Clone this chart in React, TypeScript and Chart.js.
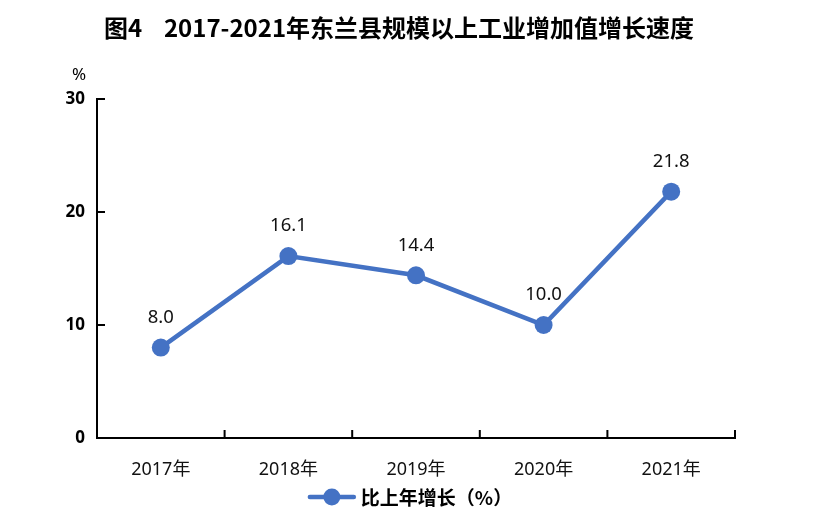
import { useEffect, useRef } from "react";
import { Chart, registerables } from "chart.js";

Chart.register(...registerables);

const categories = ["2017年", "2018年", "2019年", "2020年", "2021年"];
const growth = [8.0, 16.1, 14.4, 10.0, 21.8];
const yTicks = [0, 10, 20, 30];
const seriesName = "比上年增长（%）";
const chartTitle = "图4    2017-2021年东兰县规模以上工业增加值增长速度";
const unitLabel = "%";

const BLUE = "#4472C4";
const FONT = '"Noto Sans", "Noto Sans CJK SC", sans-serif';
const CJK_FONT = '"Noto Sans CJK SC", "Noto Sans", sans-serif';

// draws title, unit, inward ticks, data labels and legend
const extras = {
    id: "extras",
    afterDraw(chart: any) {
        const ctx = chart.ctx;
        const area = chart.chartArea;
        const x = chart.scales.x;
        const y = chart.scales.y;

        ctx.save();
        ctx.fillStyle = "#000";
        ctx.textAlign = "center";
        ctx.textBaseline = "middle";
        ctx.font = "bold 24px " + CJK_FONT;
        ctx.fillText(chartTitle, 399, 28);

        ctx.font = "17px " + FONT;
        ctx.fillText(unitLabel, 79, 75);

        // inward tick marks
        ctx.strokeStyle = "#000";
        ctx.lineWidth = 2;
        ctx.beginPath();
        yTicks.forEach((v) => {
            if (v === 0) return;
            const py = y.getPixelForValue(v);
            ctx.moveTo(area.left, py);
            ctx.lineTo(area.left + 8, py);
        });
        categories.forEach((_, i) => {
            const px = x.getPixelForValue(i + 0.5);
            ctx.moveTo(px, area.bottom);
            ctx.lineTo(px, area.bottom - 8);
        });
        ctx.stroke();

        // data labels
        const meta = chart.getDatasetMeta(0);
        ctx.font = "18.5px " + FONT;
        ctx.fillStyle = "#111";
        meta.data.forEach((pt: any, i: number) => {
            ctx.fillText(growth[i].toFixed(1), pt.x, pt.y - 30);
        });

        // legend
        ctx.font = "bold 19px " + CJK_FONT;
        const textW = ctx.measureText(seriesName).width;
        const markW = 44;
        const total = markW + 7 + textW;
        const lx = chart.width / 2 - total / 2;
        const ly = 497;
        ctx.strokeStyle = BLUE;
        ctx.lineWidth = 4.5;
        ctx.lineCap = "round";
        ctx.beginPath();
        ctx.moveTo(lx, ly);
        ctx.lineTo(lx + markW, ly);
        ctx.stroke();
        ctx.fillStyle = BLUE;
        ctx.beginPath();
        ctx.arc(lx + markW / 2, ly, 8.5, 0, Math.PI * 2);
        ctx.fill();
        ctx.fillStyle = "#000";
        ctx.textAlign = "left";
        ctx.fillText(seriesName, lx + markW + 7, ly + 1);
        ctx.restore();
    },
};

export default function App() {
    const chartRef = useRef<HTMLCanvasElement | null>(null);

    useEffect(() => {
        if (!chartRef.current) return;
        const ctx = chartRef.current.getContext("2d");
        if (!ctx) return;

        const myChart = new Chart(ctx, {
            type: "line",
            data: {
                labels: categories,
                datasets: [{
                    label: seriesName,
                    data: growth,
                    borderColor: BLUE,
                    backgroundColor: BLUE,
                    borderWidth: 4.5,
                    pointRadius: 9,
                    pointHoverRadius: 9,
                    pointBackgroundColor: BLUE,
                    pointBorderWidth: 0,
                    tension: 0,
                }],
            },
            options: {
                responsive: false,
                animation: false,
                layout: { padding: { top: 99, right: 87, bottom: 0, left: 0 } },
                plugins: {
                    legend: { display: false },
                    title: { display: false },
                    tooltip: { enabled: false },
                },
                scales: {
                    x: {
                        offset: true,
                        grid: { display: false, offset: true },
                        border: { display: true, color: "#000", width: 2 },
                        ticks: { color: "#111", font: { size: 18, family: FONT }, padding: 13 },
                        afterFit: (s: any) => { s.height = 94; },
                    },
                    y: {
                        min: 0,
                        max: 30,
                        afterBuildTicks: (s: any) => { s.ticks = yTicks.map((v) => ({ value: v })); },
                        grid: { display: false },
                        border: { display: true, color: "#000", width: 2 },
                        ticks: { color: "#000", font: { size: 17, weight: "bold", family: FONT }, padding: 4 },
                        afterFit: (s: any) => { s.width = 97; },
                    },
                },
            },
            plugins: [extras],
        });
        return () => {
            myChart.destroy();
        };
    }, []);

    return (
        <div style={{ position: "fixed", left: 0, top: 0, width: 822, height: 532, background: "#fff" }}>
            <canvas ref={chartRef} width={822} height={532}></canvas>
        </div>
    );
}
